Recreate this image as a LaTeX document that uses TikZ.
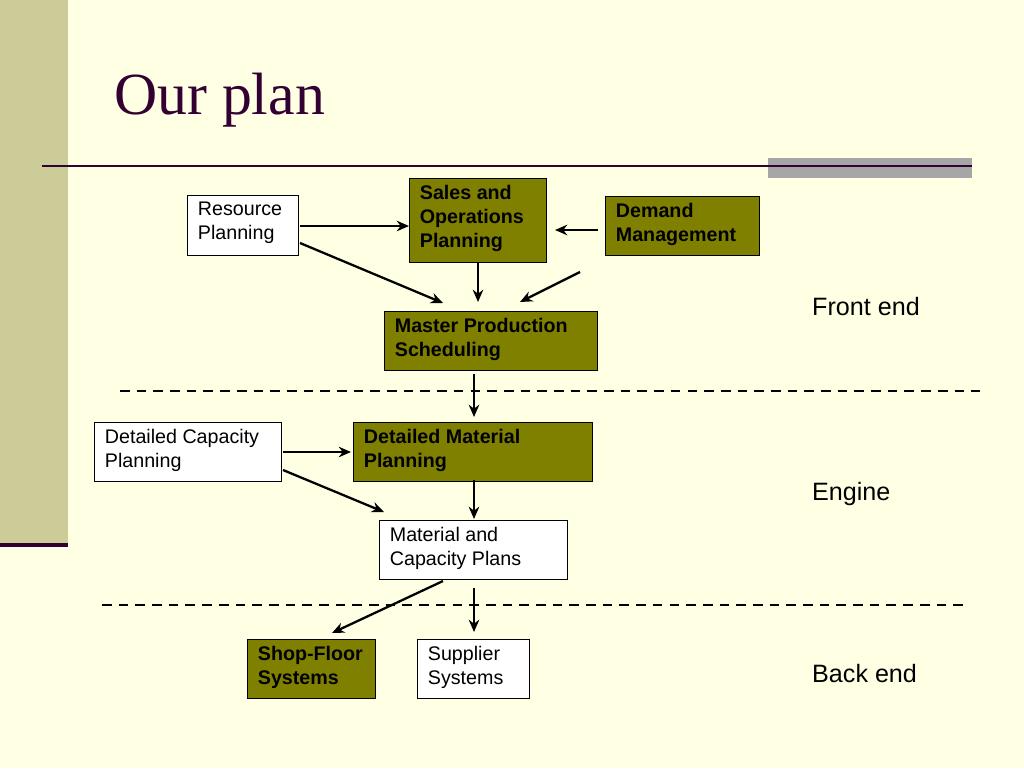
\documentclass[tikz,border=0pt]{standalone}
\usepackage{fontspec}
\usetikzlibrary{arrows.meta}
\setmainfont{Liberation Sans}
\newfontfamily\titlefont{Liberation Serif}
\definecolor{bgyel}{RGB}{255,255,227}
\definecolor{sidebar}{RGB}{204,204,153}
\definecolor{plum}{RGB}{51,0,51}
\definecolor{olive}{RGB}{128,128,0}
\begin{document}
\begin{tikzpicture}[x=0.02cm,y=-0.02cm,
  box/.style={draw=black,anchor=north west,inner sep=0pt},
  wbox/.style={box,fill=white},
  obox/.style={box,fill=olive},
  txt/.style={anchor=north west,align=left,inner sep=0pt,font=\fontsize{11.2}{13.6}\selectfont},
  btxt/.style={txt,font=\bfseries\fontsize{11.2}{13.6}\selectfont},
  arr/.style={-{Stealth[length=7pt,width=6pt]},line width=1.3pt},
  dline/.style={line width=1pt,dash pattern=on 5.5pt off 4pt},
  lbl/.style={anchor=west,font=\fontsize{14.3}{17}\selectfont}]
\fill[bgyel] (0,0) rectangle (1024,768);
\useasboundingbox (0,0) rectangle (1024,768);
\fill[sidebar] (0,0) rectangle (68,545);
\draw[plum,line width=2pt] (0,545) -- (68,545);
\fill[black!35] (768,158) rectangle (972,178);
\draw[plum,line width=1.2pt] (42,166) -- (972,166);
\node[anchor=west,text=plum,font=\titlefont\fontsize{34}{38}\selectfont] (title) at (108,100) {Our plan};

% boxes
\node[wbox,minimum width=2.22cm,minimum height=1.2cm] (rp) at (187,195) {};
\node[obox,minimum width=2.74cm,minimum height=1.68cm] (sop) at (409,178) {};
\node[obox,minimum width=3.08cm,minimum height=1.18cm] (dm) at (605,196) {};
\node[obox,minimum width=4.26cm,minimum height=1.18cm] (mps) at (384,311) {};
\node[wbox,minimum width=3.74cm,minimum height=1.18cm] (dcp) at (94,422) {};
\node[obox,minimum width=4.78cm,minimum height=1.18cm] (dmp) at (353,422) {};
\node[wbox,minimum width=3.76cm,minimum height=1.18cm] (mcp) at (379,520) {};
\node[obox,minimum width=2.56cm,minimum height=1.18cm] (sfs) at (247,639) {};
\node[wbox,minimum width=2.24cm,minimum height=1.18cm] (sup) at (417,639) {};

% box texts
\node[txt] at ([xshift=6pt,yshift=-4pt]rp.north west) {Resource\\Planning};
\node[btxt] at ([xshift=6pt,yshift=-4pt]sop.north west) {Sales and\\Operations\\Planning};
\node[btxt] at ([xshift=6pt,yshift=-4pt]dm.north west) {Demand\\Management};
\node[btxt] at ([xshift=6pt,yshift=-4pt]mps.north west) {Master Production\\Scheduling};
\node[txt] at ([xshift=6pt,yshift=-4pt]dcp.north west) {Detailed Capacity\\Planning};
\node[btxt] at ([xshift=6pt,yshift=-4pt]dmp.north west) {Detailed Material\\Planning};
\node[txt] at ([xshift=6pt,yshift=-4pt]mcp.north west) {Material and\\Capacity Plans};
\node[btxt] at ([xshift=6pt,yshift=-4pt]sfs.north west) {Shop-Floor\\Systems};
\node[txt] at ([xshift=6pt,yshift=-4pt]sup.north west) {Supplier\\Systems};

% arrows (free-floating in the slide)
\coordinate (a1) at (300,226); \coordinate (a1e) at (409,226);
\coordinate (a2) at (300,243); \coordinate (a2e) at (443,303);
\coordinate (a3) at (478,262); \coordinate (a3e) at (478,302);
\coordinate (a4) at (598,230); \coordinate (a4e) at (555,230);
\coordinate (a5) at (580,272); \coordinate (a5e) at (520,302);
\coordinate (a6) at (474,374); \coordinate (a6e) at (474,417);
\coordinate (a7) at (283,452); \coordinate (a7e) at (351,452);
\coordinate (a8) at (283,470); \coordinate (a8e) at (384,512);
\coordinate (a9) at (474,480); \coordinate (a9e) at (474,519);
\coordinate (b1) at (443,581); \coordinate (b1e) at (332,633);
\coordinate (b2) at (474,588); \coordinate (b2e) at (474,632);
\foreach \s in {a1,a2,a3,a4,a5,a6,a7,a8,a9,b1,b2} \draw[arr] (\s) -- (\s e);

\draw[dline] (120,391) -- (980,391);
\draw[dline] (102,605) -- (963,605);

\node[lbl] (fe) at (806,307) {Front end};
\node[lbl] (en) at (806,494) {Engine};
\node[lbl] (be) at (806,674) {Back end};
\end{tikzpicture}
\end{document}
